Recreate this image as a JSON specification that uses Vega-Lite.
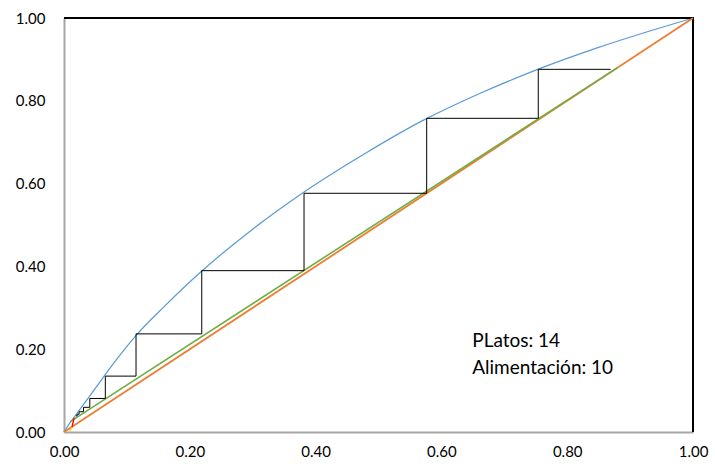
{
  "$schema": "https://vega.github.io/schema/vega-lite/v6.json",
  "width": 629,
  "height": 414,
  "autosize": {"type": "none"},
  "padding": {"left": 64, "top": 18, "right": 22, "bottom": 36},
  "background": "white",
  "config": {
    "view": {"stroke": null},
    "font": "Lato",
    "axis": {"labelFont": "Lato", "labelFontSize": 15, "labelColor": "#000000", "grid": false, "ticks": false, "domainColor": "#A6A6A6", "domainWidth": 2}
  },
  "datasets": {
    "lines": [
      {"s": "frame", "o": 1, "x": 0, "y": 1},
      {"s": "frame", "o": 2, "x": 1, "y": 1},
      {"s": "frame", "o": 3, "x": 1, "y": 0},
      {"s": "diag", "o": 1, "x": 0, "y": 0},
      {"s": "diag", "o": 2, "x": 1, "y": 1},
      {"s": "op", "o": 1, "x": 0.01, "y": 0.025},
      {"s": "op", "o": 2, "x": 0.88, "y": 0.88},
      {"s": "strip", "o": 1, "x": 0.0127, "y": 0.012},
      {"s": "strip", "o": 2, "x": 0.016, "y": 0.034},
      {"s": "q", "o": 1, "x": 0.009, "y": 0.002},
      {"s": "q", "o": 2, "x": 0.0127, "y": 0.012},
      {"s": "steps", "o": 1, "x": 0.869, "y": 0.876},
      {"s": "steps", "o": 2, "x": 0.754, "y": 0.876},
      {"s": "steps", "o": 3, "x": 0.754, "y": 0.7577},
      {"s": "steps", "o": 4, "x": 0.5766, "y": 0.7577},
      {"s": "steps", "o": 5, "x": 0.5766, "y": 0.5766},
      {"s": "steps", "o": 6, "x": 0.3816, "y": 0.5766},
      {"s": "steps", "o": 7, "x": 0.3816, "y": 0.3897},
      {"s": "steps", "o": 8, "x": 0.219, "y": 0.3897},
      {"s": "steps", "o": 9, "x": 0.219, "y": 0.237},
      {"s": "steps", "o": 10, "x": 0.1145, "y": 0.237},
      {"s": "steps", "o": 11, "x": 0.1145, "y": 0.135},
      {"s": "steps", "o": 12, "x": 0.0657, "y": 0.135},
      {"s": "steps", "o": 13, "x": 0.0657, "y": 0.081},
      {"s": "steps", "o": 14, "x": 0.041, "y": 0.081},
      {"s": "steps", "o": 15, "x": 0.041, "y": 0.0596},
      {"s": "steps", "o": 16, "x": 0.031, "y": 0.0596},
      {"s": "steps", "o": 17, "x": 0.031, "y": 0.049},
      {"s": "steps", "o": 18, "x": 0.024, "y": 0.049},
      {"s": "steps", "o": 19, "x": 0.024, "y": 0.043},
      {"s": "steps", "o": 20, "x": 0.021, "y": 0.043},
      {"s": "steps", "o": 21, "x": 0.021, "y": 0.039},
      {"s": "steps", "o": 22, "x": 0.019, "y": 0.039}
    ],
    "eq": [
      {"o": 1, "x": 0, "y": 0},
      {"o": 2, "x": 0.01, "y": 0.023},
      {"o": 3, "x": 0.025, "y": 0.054},
      {"o": 4, "x": 0.05, "y": 0.106},
      {"o": 5, "x": 0.08, "y": 0.168},
      {"o": 6, "x": 0.115, "y": 0.234},
      {"o": 7, "x": 0.16, "y": 0.304},
      {"o": 8, "x": 0.22, "y": 0.39},
      {"o": 9, "x": 0.30, "y": 0.49},
      {"o": 10, "x": 0.38, "y": 0.578},
      {"o": 11, "x": 0.48, "y": 0.674},
      {"o": 12, "x": 0.57, "y": 0.752},
      {"o": 13, "x": 0.66, "y": 0.817},
      {"o": 14, "x": 0.75, "y": 0.874},
      {"o": 15, "x": 0.85, "y": 0.929},
      {"o": 16, "x": 0.93, "y": 0.968},
      {"o": 17, "x": 1, "y": 1}
    ],
    "notes": [
      {"x": 0.649, "y": 0.22, "t": "PLatos: 14"},
      {"x": 0.649, "y": 0.155, "t": "Alimentación: 10"}
    ]
  },
  "layer": [
    {
      "data": {"name": "eq"},
      "mark": {"type": "line", "interpolate": "monotone", "color": "#5B9BD5", "strokeWidth": 1.25},
      "encoding": {
        "x": {"field": "x", "type": "quantitative", "scale": {"domain": [0, 1], "nice": false, "zero": false}, "axis": {"values": [0, 0.2, 0.4, 0.6, 0.8, 1], "format": ".2f", "title": null, "labelPadding": 12, "labelFlush": false}},
        "y": {"field": "y", "type": "quantitative", "scale": {"domain": [0, 1], "nice": false, "zero": false}, "axis": {"values": [0, 0.2, 0.4, 0.6, 0.8, 1], "format": ".2f", "title": null, "labelPadding": 19, "labelFlush": false}},
        "order": {"field": "o", "type": "quantitative"}
      }
    },
    {
      "data": {"name": "lines"},
      "mark": {"type": "line", "clip": false},
      "encoding": {
        "x": {"field": "x", "type": "quantitative"},
        "y": {"field": "y", "type": "quantitative"},
        "detail": {"field": "s"},
        "order": {"field": "o", "type": "quantitative"},
        "color": {"field": "s", "type": "nominal", "legend": null, "scale": {"domain": ["frame", "diag", "op", "strip", "q", "steps"], "range": ["#000000", "#ED7D31", "#70AD47", "#FF0000", "#FFC000", "#000000"]}},
        "strokeWidth": {"field": "s", "type": "nominal", "legend": null, "scale": {"domain": ["frame", "diag", "op", "strip", "q", "steps"], "range": [2, 1, 1, 1.5, 1.5, 1.3]}}
      }
    },
    {
      "data": {"name": "notes"},
      "mark": {"type": "text", "align": "left", "baseline": "middle", "font": "Lato", "fontSize": 19, "color": "#000000"},
      "encoding": {
        "x": {"field": "x", "type": "quantitative"},
        "y": {"field": "y", "type": "quantitative"},
        "text": {"field": "t"}
      }
    }
  ]
}
